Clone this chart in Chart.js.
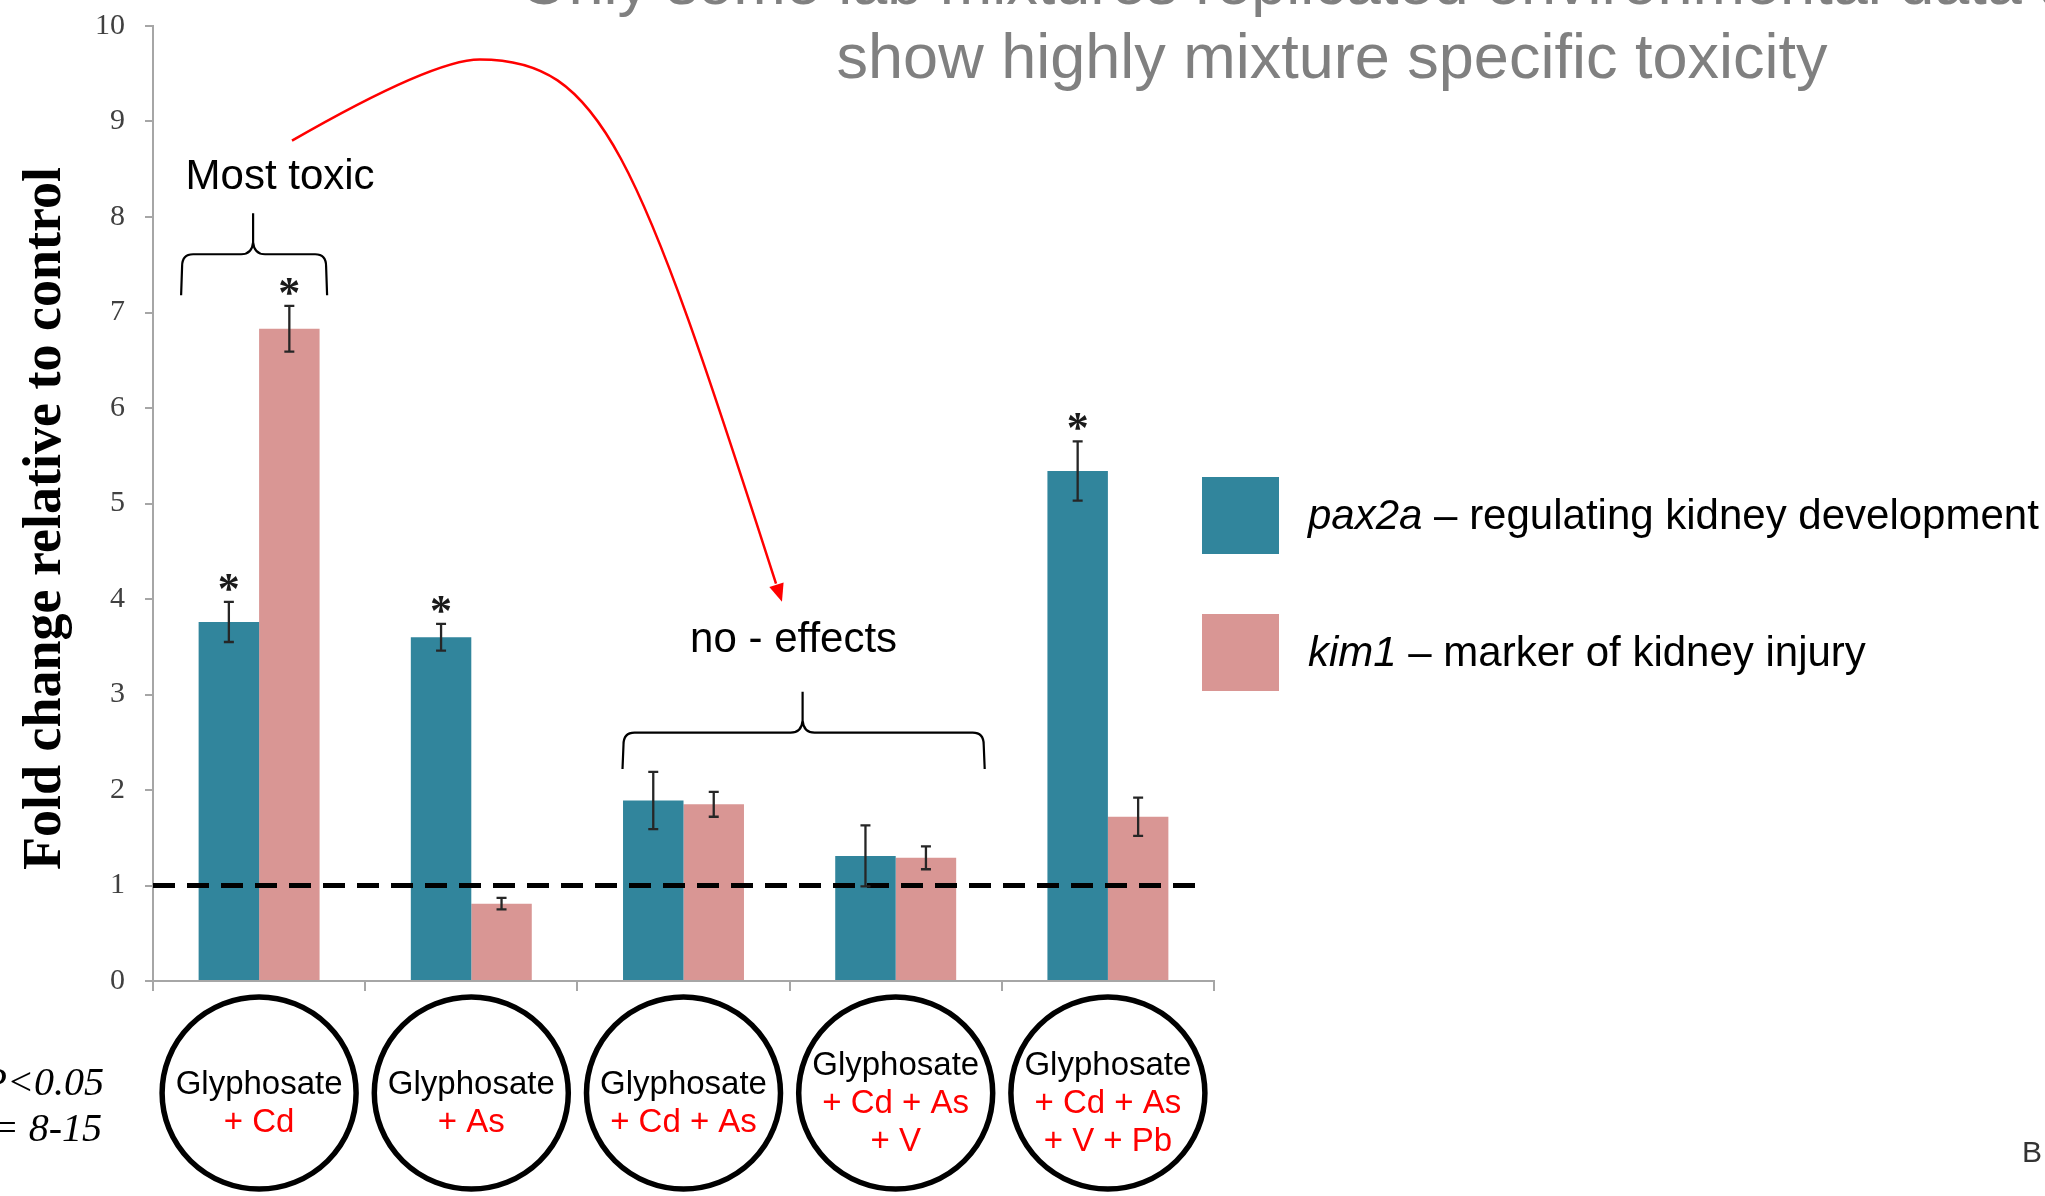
<!DOCTYPE html>
<html>
<head>
<meta charset="utf-8">
<script src="https://cdn.jsdelivr.net/npm/chart.js@4/dist/chart.umd.min.js"></script>
<style>
  html, body { margin: 0; padding: 0; background: #fff; }
  #wrap { width: 2045px; height: 1196px; }
</style>
</head>
<body>
<div id="wrap"><canvas id="barCanvas" width="2045" height="1196"></canvas></div>
<script>
// mixtures (first line black, the added metals in red)
const mixtures = [
  ["Glyphosate", "+ Cd"],
  ["Glyphosate", "+ As"],
  ["Glyphosate", "+ Cd + As"],
  ["Glyphosate", "+ Cd + As", "+ V"],
  ["Glyphosate", "+ Cd + As", "+ V + Pb"]
];

const pax2a = [3.76, 3.60, 1.89, 1.31, 5.34];
const pax2aErr = [0.21, 0.14, 0.30, 0.32, 0.31];
const pax2aSig = [true, true, false, false, true];

const kim1 = [6.83, 0.81, 1.85, 1.29, 1.72];
const kim1Err = [0.24, 0.06, 0.13, 0.12, 0.20];
const kim1Sig = [true, false, false, false, false];

const yTicks = [0, 1, 2, 3, 4, 5, 6, 7, 8, 9, 10];
const controlLevel = 1;

const titleLines = [
  "Only some lab mixtures replicated environmental data and",
  "show highly mixture specific toxicity"
];

const TEAL = "#31859c";
const PINK = "#d99694";
const AXIS = "#a6a6a6";
const SANS = "'Liberation Sans', Arial, sans-serif";
const SERIF = "'Liberation Serif', 'Times New Roman', serif";

function brace(ctx, x1, x2, xm, yEnd, yLine, yTip) {
  const r = 12;
  ctx.beginPath();
  ctx.moveTo(x1, yEnd);
  ctx.lineTo(x1 + 1, yLine + r);
  ctx.quadraticCurveTo(x1 + 1, yLine, x1 + r, yLine);
  ctx.lineTo(xm - r, yLine);
  ctx.quadraticCurveTo(xm - 1, yLine, xm, yLine - r);
  ctx.lineTo(xm, yTip);
  ctx.moveTo(xm, yLine - r);
  ctx.quadraticCurveTo(xm + 1, yLine, xm + r, yLine);
  ctx.lineTo(x2 - r, yLine);
  ctx.quadraticCurveTo(x2 - 1, yLine, x2 - 1, yLine + r);
  ctx.lineTo(x2, yEnd);
  ctx.stroke();
}

const annotate = {
  id: "annotate",
  afterDatasetsDraw(chart) {
    const { ctx, chartArea, scales: { y } } = chart;
    ctx.save();

    // control level
    const yc = y.getPixelForValue(controlLevel);
    ctx.strokeStyle = "#000";
    ctx.lineWidth = 5;
    ctx.setLineDash([22, 12]);
    ctx.beginPath();
    ctx.moveTo(chartArea.left, yc);
    ctx.lineTo(chartArea.right - 14, yc);
    ctx.stroke();
    ctx.setLineDash([]);

    // error bars + significance
    const sets = [[pax2a, pax2aErr, pax2aSig], [kim1, kim1Err, kim1Sig]];
    sets.forEach(function (s, d) {
      chart.getDatasetMeta(d).data.forEach(function (bar, i) {
        const top = y.getPixelForValue(s[0][i] + s[1][i]);
        const bot = y.getPixelForValue(s[0][i] - s[1][i]);
        ctx.strokeStyle = "#262626";
        ctx.lineWidth = 2.3;
        ctx.beginPath();
        ctx.moveTo(bar.x, top); ctx.lineTo(bar.x, bot);
        ctx.moveTo(bar.x - 5, top); ctx.lineTo(bar.x + 5, top);
        ctx.moveTo(bar.x - 5, bot); ctx.lineTo(bar.x + 5, bot);
        ctx.stroke();
        if (s[2][i]) {
          ctx.fillStyle = "#1a1a1a";
          ctx.font = "bold 44px " + SERIF;
          ctx.textAlign = "center";
          ctx.textBaseline = "alphabetic";
          ctx.fillText("*", bar.x, top + 1);
        }
      });
    });
    ctx.restore();
  },
  afterDraw(chart) {
    const { ctx, chartArea, scales: { x, y } } = chart;
    const px = v => x.getPixelForValue(v);
    const py = v => y.getPixelForValue(v);
    ctx.save();

    // y axis title
    ctx.save();
    ctx.translate(46, (chartArea.top + chartArea.bottom) / 2 + 15);
    ctx.rotate(-Math.PI / 2);
    ctx.fillStyle = "#000";
    ctx.font = "bold 54px " + SERIF;
    ctx.textAlign = "center";
    ctx.textBaseline = "middle";
    ctx.fillText("Fold change relative to control", 0, 0);
    ctx.restore();

    // mixture labels in ellipses under each group
    const cy = 1093;
    mixtures.forEach(function (lines, i) {
      const cx = px(i);
      ctx.strokeStyle = "#000";
      ctx.lineWidth = 5.5;
      ctx.beginPath();
      ctx.ellipse(cx, cy, 97, 96, 0, 0, Math.PI * 2);
      ctx.stroke();
      ctx.font = "33px " + SANS;
      ctx.textAlign = "center";
      ctx.textBaseline = "middle";
      const lh = 38;
      const first = cy + 11 - (lines.length - 1) * lh / 2;
      lines.forEach(function (t, k) {
        ctx.fillStyle = k === 0 ? "#000" : "#ff0000";
        ctx.fillText(t, cx, first + k * lh);
      });
    });

    // braces and their labels
    ctx.strokeStyle = "#000";
    ctx.lineWidth = 2.2;
    brace(ctx, px(0) - 78, px(0) + 68, px(0) - 6, py(7.18), py(7.61), py(8.04));
    const mid23 = (px(2) + px(3)) / 2;
    brace(ctx, px(2) - 61, px(3) + 89, mid23 + 13, py(2.22), py(2.60), py(3.03));
    ctx.fillStyle = "#000";
    ctx.font = "42px " + SANS;
    ctx.textAlign = "center";
    ctx.textBaseline = "alphabetic";
    ctx.fillText("Most toxic", px(0) + 21, py(8.29));
    ctx.fillText("no - effects", mid23 + 4, py(3.44));

    // red arrow from the toxic group to the no-effect groups
    ctx.strokeStyle = "#ff0000";
    ctx.fillStyle = "#ff0000";
    ctx.lineWidth = 2.5;
    ctx.beginPath();
    ctx.moveTo(px(0.155), py(8.80));
    ctx.quadraticCurveTo(px(0.82), py(9.65), px(1.04), py(9.65));
    ctx.bezierCurveTo(px(1.61), py(9.65), px(1.78), py(8.70), px(2.436), py(4.16));
    ctx.stroke();
    const tx = px(2.464), ty = py(3.97);
    const ang = Math.atan2(ty - py(8.70), tx - px(1.78));
    const hl = 18, hw = 7.5;
    ctx.beginPath();
    ctx.moveTo(tx, ty);
    ctx.lineTo(tx - hl * Math.cos(ang) + hw * Math.sin(ang), ty - hl * Math.sin(ang) - hw * Math.cos(ang));
    ctx.lineTo(tx - hl * Math.cos(ang) - hw * Math.sin(ang), ty - hl * Math.sin(ang) + hw * Math.cos(ang));
    ctx.closePath();
    ctx.fill();

    // legend
    const lx = chartArea.right - 12;
    const entries = [
      [TEAL, "pax2a", " \u2013 regulating kidney development", 515],
      [PINK, "kim1", " \u2013 marker of kidney injury", 652]
    ];
    entries.forEach(function (e) {
      ctx.fillStyle = e[0];
      ctx.fillRect(lx, e[3] - 38, 77, 77);
      ctx.fillStyle = "#000";
      ctx.textAlign = "left";
      ctx.textBaseline = "alphabetic";
      ctx.font = "italic 42px " + SANS;
      ctx.fillText(e[1], lx + 106, e[3] + 14);
      const w = ctx.measureText(e[1]).width;
      ctx.font = "42px " + SANS;
      ctx.fillText(e[2], lx + 106 + w, e[3] + 14);
    });

    // slide title (partly cut off at the top)
    ctx.fillStyle = "#808080";
    ctx.font = "63px " + SANS;
    ctx.textAlign = "center";
    ctx.fillText(titleLines[0], 1332, 4);
    ctx.fillText(titleLines[1], 1332, 78);

    // footnote
    ctx.fillStyle = "#000";
    ctx.font = "italic 40px " + SERIF;
    ctx.textAlign = "right";
    ctx.fillText("*P<0.05", 104, 1095);
    ctx.fillText("n = 8-15", 102, 1141);

    ctx.fillStyle = "#333";
    ctx.font = "30px " + SANS;
    ctx.textAlign = "left";
    ctx.fillText("B", 2022, 1162);
    ctx.restore();
  }
};

const barCanvas = document.getElementById("barCanvas");

const barChart = new Chart(barCanvas, {
  type: "bar",
  data: {
    labels: mixtures.map(m => m.join(" ")),
    datasets: [
      { label: "pax2a", data: pax2a, backgroundColor: TEAL, borderWidth: 0 },
      { label: "kim1", data: kim1, backgroundColor: PINK, borderWidth: 0 }
    ]
  },
  options: {
    responsive: false,
    animation: false,
    devicePixelRatio: 1,
    layout: { padding: { top: 26, right: 831, bottom: 0, left: 0 } },
    datasets: { bar: { categoryPercentage: 0.57, barPercentage: 1.0 } },
    plugins: { legend: { display: false }, tooltip: { enabled: false } },
    scales: {
      x: {
        ticks: { display: false },
        grid: { drawOnChartArea: false, drawTicks: true, tickLength: 10, color: AXIS, lineWidth: 2 },
        border: { color: AXIS, width: 2 },
        afterFit: s => { s.height = 215; s.paddingLeft = 0; s.paddingRight = 0; }
      },
      y: {
        min: 0,
        max: 10,
        afterBuildTicks: s => { s.ticks = yTicks.map(v => ({ value: v })); },
        ticks: { font: { family: SERIF, size: 30 }, color: "#404040", padding: 20 },
        grid: { drawOnChartArea: false, tickLength: 8, color: AXIS, lineWidth: 2 },
        border: { color: AXIS, width: 2 },
        afterFit: s => { s.width = 153; s.paddingTop = 0; s.paddingBottom = 0; }
      }
    }
  },
  plugins: [annotate]
});
</script>
</body>
</html>
